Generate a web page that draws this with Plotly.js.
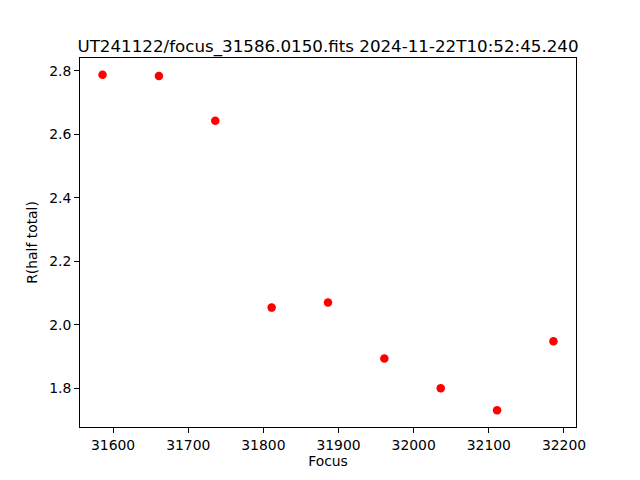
<!DOCTYPE html>
<html>
<head>
<meta charset="utf-8">
<script src="https://cdn.plot.ly/plotly-3.0.1.min.js"></script>
<style>html,body{margin:0;padding:0;background:#fff;}#chart{width:640px;height:480px;}</style>
</head>
<body>
<div id="chart"></div>
<script>
const focus = [31586, 31661, 31736, 31811, 31886, 31961, 32036, 32111, 32186];
const rHalf = [2.787, 2.783, 2.642, 2.054, 2.070, 1.894, 1.800, 1.731, 1.948];
const xTicks = [31600, 31700, 31800, 31900, 32000, 32100, 32200];
const yTicks = [1.8, 2.0, 2.2, 2.4, 2.6, 2.8];
const titleText = 'UT241122/focus_31586.0150.fits 2024-11-22T10:52:45.240';

function pad(arr){const mn=Math.min(...arr), mx=Math.max(...arr), d=(mx-mn)*0.05; return [mn-d, mx+d];}

const font = {family: 'DejaVu Sans, sans-serif', size: 13.9, color: '#000'};
Plotly.newPlot('chart', [{
  x: focus, y: rHalf, type: 'scatter', mode: 'markers',
  marker: {color: '#ff0000', size: 8.5, line: {width: 0}}
}], {
  width: 640, height: 480,
  margin: {l: 80, r: 64, t: 57.6, b: 52.8, pad: 0},
  paper_bgcolor: '#fff', plot_bgcolor: '#fff',
  font: font,
  showlegend: false,
  title: {text: titleText, font: {family: 'DejaVu Sans, sans-serif', size: 16.7, color: '#000'},
          x: 0.5, xref: 'paper', xanchor: 'center', y: 1, yref: 'paper', yanchor: 'bottom', pad: {b: 6}},
  xaxis: {range: pad(focus), tickvals: xTicks, ticktext: xTicks.map(String),
          showgrid: false, zeroline: false, showline: true, mirror: true, linecolor: '#000', linewidth: 1,
          ticks: 'outside', ticklen: 4.9, tickwidth: 1, tickcolor: '#000', tickfont: font,
          title: {text: 'Focus', font: font, standoff: 4}},
  yaxis: {range: pad(rHalf), tickvals: yTicks, ticktext: yTicks.map(v => v.toFixed(1)),
          showgrid: false, zeroline: false, showline: true, mirror: true, linecolor: '#000', linewidth: 1,
          ticks: 'outside', ticklen: 4.9, tickwidth: 1, tickcolor: '#000', tickfont: font,
          title: {text: 'R(half total)', font: font, standoff: 8}}
}, {displayModeBar: false, staticPlot: true});
</script>
</body>
</html>
